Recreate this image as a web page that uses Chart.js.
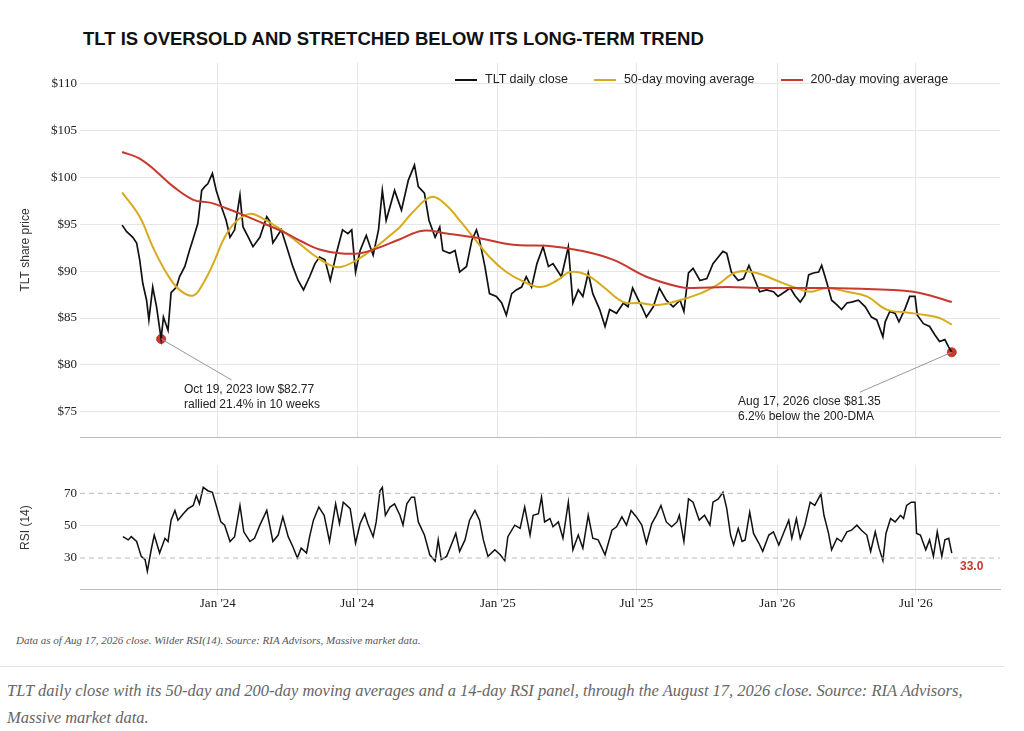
<!DOCTYPE html>
<html>
<head>
<meta charset="utf-8">
<script src="https://cdn.jsdelivr.net/npm/chart.js@4.4.1/dist/chart.umd.min.js"></script>
<style>
  body { margin: 0; background: #fff; width: 1024px; height: 731px; position: relative; overflow: hidden; font-family: "Liberation Sans", Arial, sans-serif; }
  .abs { position: absolute; }
  #title { left: 83px; top: 28px; font-size: 18.5px; font-weight: bold; color: #111; }
  #legend { left: 455px; top: 72px; font-size: 12.5px; color: #222; display: flex; gap: 26px; }
  #legend span i { display: inline-block; width: 22px; height: 2px; vertical-align: middle; margin-right: 8px; }
  .note { font-size: 12px; color: #222; line-height: 15px; }
  #rsiLast { left: 960px; top: 559px; color: #c8382e; font-weight: bold; font-size: 12px; }
  #foot { left: 16px; top: 634px; font-family: "Liberation Serif", serif; font-style: italic; font-size: 11px; color: #555; }
  #sep { left: 0; top: 666px; width: 1004px; height: 1px; background: #e4e4e4; }
  #caption { left: 7px; top: 677px; width: 990px; font-family: "Liberation Serif", serif; font-style: italic; font-size: 16.5px; color: #666; line-height: 27px; }
</style>
</head>
<body>
<div id="title" class="abs">TLT IS OVERSOLD AND STRETCHED BELOW ITS LONG-TERM TREND</div>
<div class="abs" style="left:0;top:52px;width:1024px;height:396px"><canvas id="priceChart"></canvas></div>
<div class="abs" style="left:0;top:455px;width:1024px;height:156px"><canvas id="rsiChart"></canvas></div>
<div id="legend" class="abs">
  <span><i style="background:#111"></i>TLT daily close</span>
  <span><i style="background:#d8ab1c"></i>50-day moving average</span>
  <span><i style="background:#c8382e"></i>200-day moving average</span>
</div>
<div class="abs note" style="left:184px;top:382px">Oct 19, 2023 low $82.77<br>rallied 21.4% in 10 weeks</div>
<div class="abs note" style="left:738px;top:394px">Aug 17, 2026 close $81.35<br>6.2% below the 200-DMA</div>
<div id="rsiLast" class="abs">33.0</div>
<div id="foot" class="abs">Data as of Aug 17, 2026 close. Wilder RSI(14). Source: RIA Advisors, Massive market data.</div>
<div id="sep" class="abs"></div>
<div id="caption" class="abs">TLT daily close with its 50-day and 200-day moving averages and a 14-day RSI panel, through the August 17, 2026 close. Source: RIA Advisors, Massive market data.</div>
<script>
// x values are days since Aug 28, 2023
const closeDays = [1,7,15,20,24,28,33,36,41,46,52,55,61,65,72,76,83,89,96,100,105,109,113,119,124,131,137,142,148,155,159,166,172,181,190,194,198,209,216,224,231,238,246,253,259,266,273,281,289,296,301,306,312,320,329,336,341,346,
  357,366,375,383,388,396,402,410,416,420,429,436,442,451,458,464,468,475,481,490,497,503,510,516,523,529,536,543,551,558,564,575,584,590,597,603,610,616,625,632,638,647,656,662,668,680,686,695,
  703,712,721,730,735,741,747,756,765,773,780,786,791,797,806,813,820,828,834,843,852,858,867,874,880,887,893,898,904,911,915,922,928,935,941,948,954,963,972,980,987,995,998,1004,1011,1016,1024,1030,1037,1040,1048,1056,1063,1069,1076,1081,1085];
const closeValues = [94.9,94.2,93.6,93.0,91.2,88.7,86.9,84.8,88.3,86.2,82.77,85.1,83.7,87.7,88.3,89.4,90.5,92.2,94.0,95.1,98.6,99.0,99.3,100.4,98.6,96.8,95.4,93.6,94.4,98.1,94.7,93.6,92.6,93.6,95.8,95.3,93.0,94.4,92.6,90.5,89.0,88.0,89.4,90.8,91.5,91.2,89.0,91.9,94.4,94.0,94.4,89.9,92.2,93.8,91.7,94.4,98.6,95.4,
  98.6,96.5,99.7,101.3,99.0,98.3,95.4,93.6,94.7,92.2,91.9,92.2,89.9,90.5,93.3,94.4,93.3,90.5,87.6,87.3,86.6,85.3,87.6,88.0,88.3,89.4,88.3,90.8,92.6,90.5,90.8,89.4,92.6,86.6,88.0,87.3,89.8,87.6,85.9,84.1,85.9,85.5,86.6,86.2,88.2,86.2,85.1,86.2,
  88.2,86.9,86.2,86.9,85.7,89.8,90.3,89.0,89.2,90.8,91.5,92.1,91.9,89.9,89.0,89.2,90.6,89.0,87.8,88.0,87.8,87.3,87.8,88.2,87.4,86.7,87.4,89.6,89.8,89.9,90.6,88.7,86.9,86.4,85.9,86.6,86.7,86.9,86.2,85.1,84.8,83.0,84.6,85.7,85.5,84.6,86.0,87.3,87.3,85.3,84.4,84.1,83.2,82.5,82.7,81.9,81.35];

const ma50Days = [1,24,41,59,76,94,107,120,135,150,168,185,207,233,255,277,290,312,333,351,364,381,405,425,442,460,481,503,525,547,569,586,608,630,656,677,699,721,756,778,804,830,856,878,900,922,948,974,1000,1026,1052,1069,1085];
const ma50Values = [98.4,95.8,92.6,89.8,88.0,87.4,88.7,90.8,93.6,95.3,96.1,95.6,94.5,92.9,91.5,90.5,90.5,91.4,92.6,93.8,94.7,96.3,97.9,97.0,95.4,93.6,91.5,89.9,88.9,88.3,89.0,89.9,89.6,88.3,86.7,86.6,86.4,86.7,87.6,88.5,89.9,89.8,89.0,88.3,87.8,88.2,87.8,87.3,85.9,85.6,85.3,85.0,84.3];

const ma200Days = [1,24,46,68,94,116,137,159,185,211,237,259,285,312,333,364,394,425,468,512,556,599,643,686,730,747,791,834,922,1009,1035,1061,1085];
const ma200Values = [102.7,102.0,100.6,99.0,97.6,97.3,96.7,96.0,95.1,94.2,93.1,92.3,91.9,91.9,92.4,93.4,94.3,94.0,93.5,92.8,92.7,92.2,91.2,89.4,88.3,88.2,88.3,88.2,88.2,88.0,87.8,87.3,86.7];

const rsiDays = [2,9,13,20,26,31,34,39,43,50,57,61,65,70,74,81,87,94,98,102,107,113,119,124,130,135,142,148,155,160,168,174,181,190,198,205,211,218,224,230,235,242,246,251,258,265,272,280,285,290,299,306,312,318,322,329,333,338,341,345,351,357,364,368,373,379,383,388,396,403,410,414,418,425,431,437,442,449,455,462,468,473,479,488,495,501,505,514,521,527,534,538,545,549,
  553,560,564,571,577,584,590,597,603,610,616,623,632,641,647,654,660,666,673,680,686,693,699,705,712,719,726,729,735,741,747,755,762,769,773,780,786,791,796,800,806,811,815,821,826,833,838,846,852,859,865,872,876,882,887,893,900,906,914,918,924,928,935,941,948,954,961,967,974,979,985,990,995,999,1005,1011,1018,1022,1026,1032,1037,1039,1044,1051,1056,1061,1066,1072,1076,1081,1085];
const rsiValues = [43.2,41.2,43.2,40.2,31.0,29.0,21.9,35.1,44.2,33.1,42.2,40.2,53.4,59.4,53.4,57.4,60.5,62.5,68.6,63.5,73.7,71.6,70.6,62.5,52.3,50.3,40.2,43.2,62.5,46.2,40.2,42.2,50.3,59.4,40.2,44.2,55.4,43.2,37.1,30.0,36.1,33.1,43.2,53.4,61.5,56.4,40.2,63.5,51.3,64.5,60.5,39.1,51.3,57.4,51.3,43.2,52.3,71.6,73.7,56.4,61.5,63.5,56.4,50.3,63.5,67.6,67.6,52.3,44.2,32.0,28.0,41.2,29.0,31.0,38.1,45.2,34.1,41.2,53.4,59.4,53.4,41.2,31.0,35.1,32.0,28.4,43.2,50.3,48.3,61.5,44.2,56.4,57.4,67.6,
  52.3,54.4,49.3,52.3,42.2,64.5,35.1,44.2,36.1,56.4,42.2,41.2,32.0,47.2,49.3,55.4,50.3,59.4,55.4,50.3,39.1,51.3,56.4,62.5,52.3,49.3,52.3,56.4,40.2,66.5,64.5,53.4,56.4,50.3,64.5,66.5,70.6,60.5,44.2,38.1,48.3,40.2,41.2,58.4,45.2,39.1,34.1,44.2,46.2,38.1,45.2,53.4,42.2,54.4,42.2,50.3,64.5,62.5,69.6,56.4,45.2,35.1,42.2,40.2,46.2,47.2,50.3,47.2,44.2,34.1,46.2,36.1,28.4,45.2,54.4,52.3,56.4,54.4,62.5,64.5,64.5,45.2,44.2,35.1,41.2,31.0,46.2,31.0,41.2,42.2,33.0];

const tickDays = [126, 308, 492, 673, 857, 1038];
const tickLabels = ["Jan '24", "Jul '24", "Jan '25", "Jul '25", "Jan '26", "Jul '26"];
const priceTicks = [75, 80, 85, 90, 95, 100, 105, 110];
const rsiTicks = [30, 50, 70];
const rsiBands = [30, 70];
const lowPoint = { day: 52, value: 82.77 };
const lastPoint = { day: 1085, value: 81.35 };
const lowLabelAt = { day: 144, value: 78.4 };
const lastLabelAt = { day: 965, value: 77.1 };

const pts = (xs, ys) => xs.map((x, i) => ({ x, y: ys[i] }));
const serif = { family: "Liberation Serif", size: 13 };
const X_MIN = -54, X_MAX = 1148, Y_AXIS_W = 80;

function xAxis(showLabels) {
  return {
    type: 'linear', min: X_MIN, max: X_MAX,
    afterBuildTicks: ax => { ax.ticks = tickDays.map(v => ({ value: v })); },
    ticks: { display: showLabels, color: '#222', font: serif, padding: 0,
      callback: v => tickLabels[tickDays.indexOf(v)] },
    grid: { color: '#e6e6e6', drawTicks: showLabels, tickLength: 6 },
    border: { color: '#bbb' }
  };
}

function yTitle(text) {
  return { display: true, text, color: '#333', padding: { top: 0, bottom: 0 },
    font: { family: 'Liberation Sans', size: 12 } };
}

new Chart(document.getElementById('priceChart'), {
  type: 'line',
  data: { datasets: [
    { data: pts([lowPoint.day, lowLabelAt.day], [lowPoint.value, lowLabelAt.value]), borderColor: '#999', borderWidth: 1, pointRadius: 0 },
    { data: pts([lastPoint.day, lastLabelAt.day], [lastPoint.value, lastLabelAt.value]), borderColor: '#999', borderWidth: 1, pointRadius: 0 },
    { data: pts(ma200Days, ma200Values), borderColor: '#c8382e', borderWidth: 2, pointRadius: 0, tension: 0.4 },
    { data: pts(ma50Days, ma50Values), borderColor: '#d8ab1c', borderWidth: 2, pointRadius: 0, tension: 0.4 },
    { data: pts(closeDays, closeValues), borderColor: '#111', borderWidth: 1.7, pointRadius: 0 },
    { type: 'scatter', data: [{ x: lowPoint.day, y: lowPoint.value }, { x: lastPoint.day, y: lastPoint.value }],
      backgroundColor: '#c8382e', borderColor: '#c8382e', pointRadius: 4.5 }
  ] },
  options: {
    animation: false, responsive: true, maintainAspectRatio: false,
    layout: { padding: { top: 0, right: 24, bottom: 0, left: 18 } },
    plugins: { legend: { display: false }, tooltip: { enabled: false } },
    scales: {
      x: xAxis(false),
      y: { min: 72.3, max: 112.2,
        afterBuildTicks: ax => { ax.ticks = priceTicks.map(v => ({ value: v })); },
        afterFit: ax => { ax.width = Y_AXIS_W - 18; },
        ticks: { color: '#222', font: serif, callback: v => '$' + v },
        grid: { color: '#e6e6e6', drawTicks: false },
        border: { display: false },
        title: yTitle('TLT share price') }
    }
  }
});

new Chart(document.getElementById('rsiChart'), {
  type: 'line',
  data: { datasets: [
    ...rsiBands.map(b => ({ data: pts([X_MIN, X_MAX], [b, b]), borderColor: '#bbb', borderWidth: 1, borderDash: [5, 4], pointRadius: 0 })),
    { data: pts(rsiDays, rsiValues), borderColor: '#111', borderWidth: 1.5, pointRadius: 0 }
  ] },
  options: {
    animation: false, responsive: true, maintainAspectRatio: false,
    layout: { padding: { top: 8, right: 24, left: 18 } },
    plugins: { legend: { display: false }, tooltip: { enabled: false } },
    scales: {
      x: xAxis(true),
      y: { min: 10.6, max: 87,
        afterBuildTicks: ax => { ax.ticks = rsiTicks.map(v => ({ value: v })); },
        afterFit: ax => { ax.width = Y_AXIS_W - 18; },
        ticks: { color: '#222', font: serif },
        grid: { color: ctx => (ctx.tick && ctx.tick.value === 50) ? '#e6e6e6' : 'rgba(0,0,0,0)', drawTicks: false },
        border: { display: false },
        title: yTitle('RSI (14)') }
    }
  }
});
</script>
</body>
</html>
